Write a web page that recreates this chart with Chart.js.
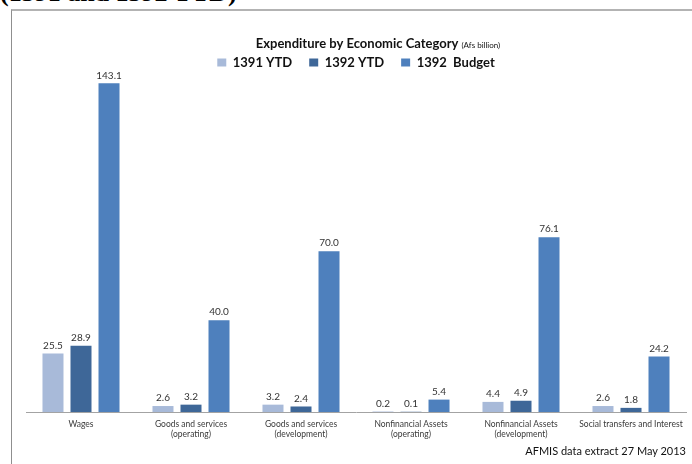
<!DOCTYPE html>
<html>
<head>
<meta charset="utf-8">
<script src="https://cdn.jsdelivr.net/npm/chart.js@4.4.1/dist/chart.umd.min.js"></script>
<style>
  html, body { margin: 0; padding: 0; background: #fff; }
  #wrap { position: relative; width: 692px; height: 464px; overflow: hidden; }
  #heading { position: absolute; left: 0; top: -20px; font: bold 26px "Liberation Serif", serif; line-height: 26px; white-space: nowrap; color: #000; }
  #frame { position: absolute; left: 11px; top: 9px; width: 700px; height: 470px; border-top: 2px solid #b3b3b3; border-left: 1px solid #8f8f8f; }
  #source { position: absolute; right: 6px; top: 444px; font: 11px Lato, sans-serif; color: #111; white-space: nowrap; }
  #chart { position: absolute; left: 0; top: 0; }
</style>
</head>
<body>
<div id="wrap">
  <div id="heading">(1391 and 1392 YTD)</div>
  <div id="frame"></div>
  <canvas id="chart" width="692" height="464"></canvas>
  <div id="source">AFMIS data extract 27 May 2013</div>
</div>
<script>
const categories = [
  "Wages",
  ["Goods and services", "(operating)"],
  ["Goods and services", "(development)"],
  ["Nonfinancial Assets", "(operating)"],
  ["Nonfinancial Assets", "(development)"],
  "Social transfers and Interest"
];
const ytd1391 = [25.5, 2.6, 3.2, 0.2, 4.4, 2.6];
const ytd1392 = [28.9, 3.2, 2.4, 0.1, 4.9, 1.8];
const budget1392 = [143.1, 40.0, 70.0, 5.4, 76.1, 24.2];

// title has two font sizes, so it is painted by hand
const mixedTitle = {
  id: "mixedTitle",
  afterDraw(chart) {
    const ctx = chart.ctx;
    const main = "Expenditure by Economic Category";
    const unit = "(Afs billion)";
    ctx.save();
    ctx.fillStyle = "#111";
    ctx.textBaseline = "alphabetic";
    ctx.font = "bold 13px Lato";
    const w1 = ctx.measureText(main).width;
    ctx.font = "8px Lato";
    const w2 = ctx.measureText(unit).width;
    let x = 378 - (w1 + 3 + w2) / 2;
    ctx.font = "bold 13px Lato";
    ctx.fillText(main, x, 48);
    ctx.font = "8px Lato";
    ctx.fillText(unit, x + w1 + 3, 48);
    ctx.restore();
  }
};

// value above each bar
const valueLabels = {
  id: "valueLabels",
  afterDatasetsDraw(chart) {
    const ctx = chart.ctx;
    ctx.save();
    ctx.font = "10px Lato";
    ctx.fillStyle = "#333";
    ctx.textAlign = "center";
    ctx.textBaseline = "bottom";
    chart.data.datasets.forEach((ds, i) => {
      chart.getDatasetMeta(i).data.forEach((bar, j) => {
        ctx.fillText(ds.data[j].toFixed(1), bar.x, bar.y - 3);
      });
    });
    ctx.restore();
  }
};

new Chart(document.getElementById("chart"), {
  type: "bar",
  data: {
    labels: categories,
    datasets: [
      { label: "1391 YTD", data: ytd1391, backgroundColor: "#a8bad9" },
      { label: "1392 YTD", data: ytd1392, backgroundColor: "#3e6798" },
      { label: "1392  Budget", data: budget1392, backgroundColor: "#4e80bd" }
    ]
  },
  options: {
    responsive: false,
    animation: false,
    categoryPercentage: 0.764,
    barPercentage: 0.75,
    layout: { padding: { top: 39, left: 26, right: 6, bottom: 0 } },
    plugins: {
      tooltip: { enabled: false },
      legend: {
        position: "top",
        labels: {
          boxWidth: 9,
          boxHeight: 8,
          padding: 17,
          color: "#111",
          font: { family: "Lato", size: 13, weight: "bold" }
        }
      }
    },
    scales: {
      x: {
        grid: { display: false, drawTicks: false },
        border: { display: true, color: "#a3a3a3", width: 1 },
        ticks: {
          padding: 7,
          color: "#3a3a3a",
          maxRotation: 0,
          autoSkip: false,
          font: { family: "Lato", size: 8.5, lineHeight: 1.2 }
        },
        afterFit(scale) { scale.height = 52; }
      },
      y: { display: false, min: 0, max: 145 }
    }
  },
  plugins: [mixedTitle, valueLabels]
});
</script>
</body>
</html>
